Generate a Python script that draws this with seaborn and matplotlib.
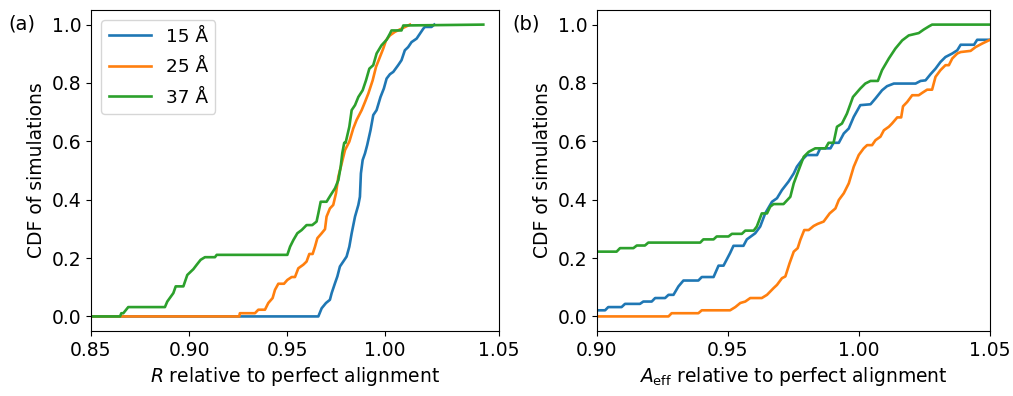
import matplotlib
matplotlib.use("Agg")
import matplotlib.pyplot as plt
import seaborn as sns

plt.rcParams['font.size'] = 13.5

# series labels and colours
labels = ["15 Å", "25 Å", "37 Å"]
colors = ["#1f77b4", "#ff7f0e", "#2ca02c"]

# (a) R relative to perfect alignment
r15_x = [0.85, 0.9659, 0.9676, 0.9698, 0.9718, 0.9727, 0.9744, 0.9756, 0.9769, 0.9786,
         0.9803, 0.9817, 0.9829, 0.9846, 0.9863, 0.9871, 0.9876, 0.9885, 0.9897, 0.9908,
         0.9925, 0.9939, 0.9956, 0.9976, 0.9993, 1.0007, 1.0024, 1.0041, 1.0066, 1.0083,
         1.0100, 1.0117, 1.0134, 1.0160, 1.0177, 1.0194, 1.0202, 1.0236, 1.0250]
r15_y = [0, 0, 0.028, 0.046, 0.057, 0.080, 0.114, 0.137, 0.171, 0.188,
         0.205, 0.239, 0.285, 0.342, 0.382, 0.410, 0.490, 0.536, 0.559, 0.587,
         0.638, 0.690, 0.707, 0.752, 0.781, 0.815, 0.830, 0.838, 0.861, 0.878,
         0.912, 0.923, 0.940, 0.952, 0.969, 0.986, 0.992, 0.992, 1.0]

r25_x = [0.85, 0.9256, 0.9259, 0.9336, 0.9353, 0.9387, 0.9404, 0.9426, 0.9438, 0.9455,
         0.9484, 0.9501, 0.9523, 0.9540, 0.9557, 0.9582, 0.9599, 0.9613, 0.9630, 0.9642,
         0.9654, 0.9676, 0.9693, 0.9701, 0.9718, 0.9735, 0.9749, 0.9761, 0.9778, 0.9795,
         0.9817, 0.9837, 0.9854, 0.9880, 0.9897, 0.9914, 0.9936, 0.9953, 0.9973, 0.9990,
         1.0004, 1.0024, 1.0049, 1.0083, 1.0117, 1.0126]
r25_y = [0, 0, 0.011, 0.011, 0.023, 0.023, 0.046, 0.063, 0.091, 0.112,
         0.112, 0.125, 0.135, 0.135, 0.165, 0.177, 0.188, 0.214, 0.214, 0.239,
         0.268, 0.285, 0.299, 0.342, 0.370, 0.382, 0.422, 0.479, 0.524, 0.570,
         0.599, 0.644, 0.673, 0.707, 0.735, 0.764, 0.809, 0.855, 0.889, 0.918,
         0.946, 0.963, 0.975, 0.986, 0.997, 1.0]

r37_x = [0.85, 0.8648, 0.8655, 0.8665, 0.8690, 0.8877, 0.8889, 0.8920, 0.8932, 0.8971,
         0.8991, 0.9022, 0.9039, 0.9059, 0.9081, 0.9132, 0.9141, 0.9501, 0.9515, 0.9532,
         0.9552, 0.9574, 0.9599, 0.9628, 0.9650, 0.9659, 0.9671, 0.9701, 0.9722, 0.9744,
         0.9761, 0.9773, 0.9781, 0.9791, 0.9798, 0.9817, 0.9829, 0.9846, 0.9863, 0.9885,
         0.9902, 0.9919, 0.9939, 0.9956, 0.9981, 1.0007, 1.0024, 1.0032, 1.0083, 1.0092,
         1.0500]
r37_y = [0, 0, 0.011, 0.011, 0.032, 0.032, 0.051, 0.080, 0.103, 0.103,
         0.142, 0.162, 0.177, 0.194, 0.203, 0.203, 0.211, 0.211, 0.239, 0.262,
         0.285, 0.296, 0.313, 0.313, 0.325, 0.353, 0.393, 0.393, 0.416, 0.439,
         0.467, 0.513, 0.559, 0.595, 0.595, 0.650, 0.707, 0.724, 0.752, 0.775,
         0.809, 0.849, 0.861, 0.901, 0.929, 0.948, 0.969, 0.980, 0.980, 0.997,
         1.0]

# (b) A_eff relative to perfect alignment
a15_x = [0.89, 0.9031, 0.9043, 0.9094, 0.9107, 0.9164, 0.9177, 0.9209, 0.9222, 0.9260,
         0.9273, 0.9292, 0.9311, 0.9330, 0.9387, 0.9400, 0.9445, 0.9464, 0.9483, 0.9508,
         0.9521, 0.9559, 0.9572, 0.9604, 0.9623, 0.9642, 0.9668, 0.9687, 0.9706, 0.9731,
         0.9751, 0.9763, 0.9782, 0.9801, 0.9840, 0.9852, 0.9891, 0.9903, 0.9923, 0.9942,
         0.9961, 0.9980, 1.0005, 1.0044, 1.0063, 1.0088, 1.0107, 1.0133, 1.0216, 1.0235,
         1.0254, 1.0273, 1.0292, 1.0311, 1.0330, 1.0356, 1.0375, 1.0388, 1.0439, 1.0451,
         1.0500]
a15_y = [0.021, 0.021, 0.032, 0.032, 0.043, 0.043, 0.051, 0.051, 0.063, 0.063,
         0.074, 0.074, 0.103, 0.123, 0.123, 0.135, 0.135, 0.174, 0.174, 0.217,
         0.242, 0.242, 0.264, 0.285, 0.308, 0.353, 0.393, 0.405, 0.433, 0.462,
         0.490, 0.513, 0.536, 0.553, 0.553, 0.576, 0.576, 0.595, 0.595, 0.627,
         0.644, 0.684, 0.724, 0.727, 0.747, 0.775, 0.789, 0.798, 0.798, 0.807,
         0.809, 0.830, 0.849, 0.872, 0.889, 0.901, 0.912, 0.931, 0.931, 0.948,
         0.948]

a25_x = [0.89, 0.9273, 0.9285, 0.9387, 0.9400, 0.9508, 0.9528, 0.9547, 0.9566, 0.9585,
         0.9629, 0.9649, 0.9674, 0.9687, 0.9706, 0.9719, 0.9735, 0.9751, 0.9766, 0.9776,
         0.9791, 0.9808, 0.9827, 0.9842, 0.9865, 0.9888, 0.9910, 0.9923, 0.9942, 0.9961,
         0.9980, 0.9999, 1.0018, 1.0031, 1.0050, 1.0063, 1.0082, 1.0095, 1.0114, 1.0126,
         1.0146, 1.0161, 1.0168, 1.0184, 1.0203, 1.0228, 1.0241, 1.0260, 1.0279, 1.0292,
         1.0311, 1.0330, 1.0343, 1.0356, 1.0375, 1.0388, 1.0426, 1.0445, 1.0470, 1.0500]
a25_y = [0, 0, 0.011, 0.011, 0.021, 0.021, 0.032, 0.046, 0.051, 0.063,
         0.063, 0.074, 0.097, 0.108, 0.131, 0.137, 0.182, 0.222, 0.234, 0.262,
         0.296, 0.296, 0.310, 0.317, 0.325, 0.353, 0.370, 0.399, 0.422, 0.456,
         0.513, 0.553, 0.576, 0.587, 0.587, 0.604, 0.616, 0.638, 0.650, 0.661,
         0.682, 0.682, 0.720, 0.735, 0.758, 0.758, 0.766, 0.777, 0.777, 0.821,
         0.844, 0.861, 0.861, 0.884, 0.901, 0.906, 0.910, 0.923, 0.935, 0.948]

a37_x = [0.89, 0.9075, 0.9088, 0.9139, 0.9152, 0.9183, 0.9196, 0.9394, 0.9406, 0.9445,
         0.9457, 0.9502, 0.9515, 0.9553, 0.9566, 0.9598, 0.9610, 0.9629, 0.9649, 0.9661,
         0.9674, 0.9712, 0.9738, 0.9751, 0.9770, 0.9789, 0.9808, 0.9833, 0.9872, 0.9884,
         0.9903, 0.9916, 0.9935, 0.9954, 0.9977, 1.0005, 1.0024, 1.0044, 1.0072, 1.0088,
         1.0114, 1.0139, 1.0165, 1.0190, 1.0228, 1.0247, 1.0267, 1.0279, 1.0500]
a37_y = [0.222, 0.222, 0.234, 0.234, 0.243, 0.243, 0.253, 0.253, 0.264, 0.264,
         0.274, 0.274, 0.283, 0.283, 0.294, 0.294, 0.308, 0.353, 0.353, 0.376,
         0.385, 0.385, 0.410, 0.456, 0.502, 0.547, 0.564, 0.576, 0.576, 0.595,
         0.595, 0.650, 0.661, 0.695, 0.752, 0.781, 0.798, 0.807, 0.807, 0.844,
         0.884, 0.918, 0.946, 0.963, 0.971, 0.983, 0.994, 1.0, 1.0]

# axis ticks
a_xticks = [0.85, 0.90, 0.95, 1.00, 1.058]
a_xticklabels = ["0.85", "0.90", "0.95", "1.00", "1.05"]
b_xticks = [0.90, 0.95, 1.00, 1.05]
y_ticks = [0.0, 0.2, 0.4, 0.6, 0.8, 1.0]

fig = plt.figure(figsize=(10.13, 3.96), dpi=100)
ax_a = fig.add_axes([0.0898, 0.1641, 0.4028, 0.8106])
ax_b = fig.add_axes([0.5893, 0.1641, 0.3880, 0.8106])

series_a = [(r15_x, r15_y), (r25_x, r25_y), (r37_x, r37_y)]
series_b = [(a15_x, a15_y), (a25_x, a25_y), (a37_x, a37_y)]

for (xs, ys), lab, col in zip(series_a, labels, colors):
    sns.lineplot(x=xs, y=ys, ax=ax_a, color=col, label=lab, sort=False,
                 estimator=None, linewidth=1.9)
for (xs, ys), col in zip(series_b, colors):
    sns.lineplot(x=xs, y=ys, ax=ax_b, color=col, sort=False,
                 estimator=None, linewidth=1.9, legend=False)

ax_a.set_xlim(0.85, 1.058)
ax_a.set_xticks(a_xticks)
ax_a.set_xticklabels(a_xticklabels)
ax_a.set_xlabel("$R$ relative to perfect alignment")
ax_a.legend(loc="upper left", fontsize=13.3, handlelength=2.3,
            labelspacing=0.68, borderaxespad=0.55)

ax_b.set_xlim(0.90, 1.05)
ax_b.set_xticks(b_xticks)
ax_b.set_xlabel(r"$A_\mathrm{eff}$ relative to perfect alignment")

for ax in (ax_a, ax_b):
    ax.set_ylim(-0.05, 1.05)
    ax.set_yticks(y_ticks)
    ax.set_ylabel("CDF of simulations")

fig.text(0.008, 0.94, "(a)", fontsize=14, va="center")
fig.text(0.506, 0.94, "(b)", fontsize=14, va="center")

fig.savefig("out.png", dpi=100)
